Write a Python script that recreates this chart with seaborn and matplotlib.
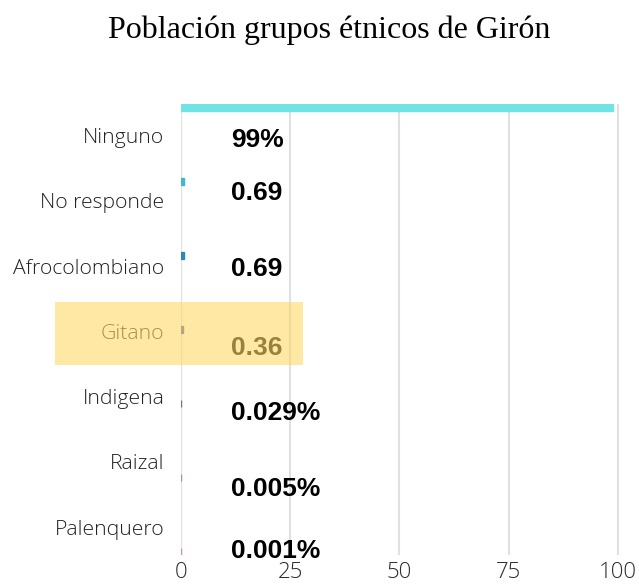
import matplotlib
matplotlib.use("Agg")
import matplotlib.pyplot as plt
from matplotlib.patches import Rectangle
import seaborn as sns
import pandas as pd

# datos
grupos = ["Ninguno", "No responde", "Afrocolombiano", "Gitano",
          "Indigena", "Raizal", "Palenquero"]
valores = [99, 0.69, 0.69, 0.36, 0.029, 0.005, 0.001]
etiquetas = ["99%", "0.69", "0.69", "0.36", "0.029%", "0.005%", "0.001%"]
colores = ["#70E4E4", "#3FB5D8", "#2F88BA", "#3A5FA8",
           "#6870A8", "#A890C0", "#C890C0"]
x_ticks = [0, 25, 50, 75, 100]

df = pd.DataFrame({"grupo": grupos, "valor": valores})

sns.set_style("white")
fig = plt.figure(figsize=(6.39, 5.88), dpi=100)
ax = fig.add_axes([0.2833, 0.0561, 0.687, 0.7674])

sns.barplot(data=df, x="valor", y="grupo", hue="grupo", palette=colores,
            width=0.09, legend=False, ax=ax, saturation=1)
# borde del mismo color para que las barras minimas se vean
for p in ax.patches:
    p.set_edgecolor(p.get_facecolor())
    p.set_linewidth(1.0)

ax.set_xlim(0, 100.5)
ax.set_ylim(6.05, -0.05)
ax.set_xticks(x_ticks)
ax.set_xticklabels([str(t) for t in x_ticks], fontsize=16,
                   family=["Open Sans", "DejaVu Sans"], fontweight="light",
                   color="#2A2A2A")
ax.xaxis.grid(True, color="#E0E0E0", linewidth=1.5)
ax.set_axisbelow(True)
for s in ax.spines.values():
    s.set_visible(False)
ax.axvline(0, color="#E0E0E0", linewidth=1.5, zorder=0)

# las etiquetas del eje y estan desplazadas respecto a las barras
ax.set_yticks([0.38 + 0.882 * i for i in range(len(grupos))])
ax.set_yticklabels(grupos, fontsize=15.2,
                   family=["Open Sans", "DejaVu Sans"], fontweight="light",
                   color="#222222")
ax.tick_params(axis="y", length=0, pad=12)
ax.tick_params(axis="x", length=0, pad=5)
ax.set_xlabel("")
ax.set_ylabel("")

desplaz = [0.44, 0.16, 0.18, 0.25, 0.13, 0.16, 0.0]
for i, txt in enumerate(etiquetas):
    ax.text(11.4, i + desplaz[i], txt, fontsize=19, fontweight="bold",
            family="Liberation Sans", ha="left", va="center", color="black")

fig.text(0.515, 0.948, "Población grupos étnicos de Girón", fontsize=23,
         family="Liberation Serif", ha="center", va="center", color="black")

# resaltado amarillo de Gitano
fig.patches.append(Rectangle((0.086, 0.379), 0.388, 0.107,
                             transform=fig.transFigure, facecolor="#FFD966",
                             alpha=0.6, edgecolor="none", zorder=5))

fig.savefig("out.png", dpi=100)
